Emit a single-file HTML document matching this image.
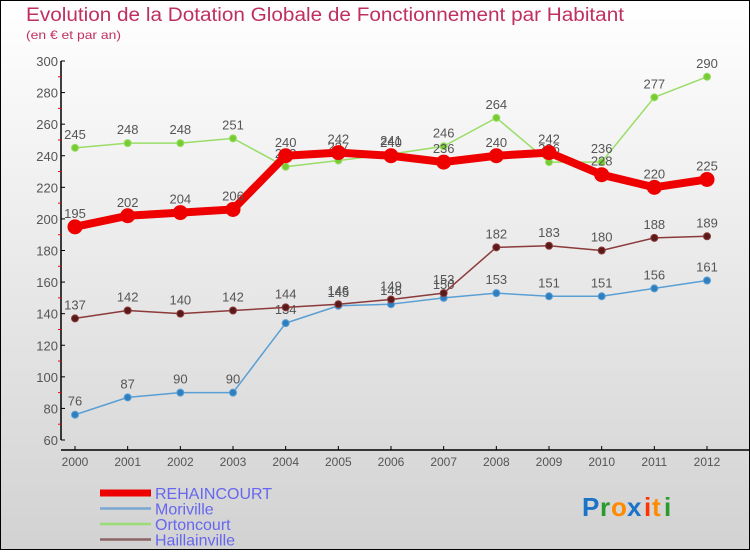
<!DOCTYPE html>
<html><head><meta charset="utf-8"><style>
html,body{margin:0;padding:0}
body{width:750px;height:550px;overflow:hidden}
#c{position:absolute;left:0;top:0;width:748px;height:548px;border:1px solid #000;background:linear-gradient(#ffffff,#d2d2d2)}
svg text{font-family:"Liberation Sans",sans-serif}
</style></head><body>
<div id="c">
<svg id="s" width="748" height="548" viewBox="1 1 748 548" xmlns="http://www.w3.org/2000/svg">
<text x="26" y="21" font-size="19" fill="#c0305f" textLength="598" lengthAdjust="spacingAndGlyphs">Evolution de la Dotation Globale de Fonctionnement par Habitant</text>
<text x="26" y="39" font-size="12" fill="#c0305f" textLength="95" lengthAdjust="spacingAndGlyphs">(en € et par an)</text>
<g id="axes"></g><g id="series"></g><g id="legend"></g>
<g font-size="26" font-weight="bold">
<text x="582" y="516" fill="#1a73c9">P</text><text x="600" y="516" fill="#2a9a2a">r</text><text x="611" y="516" fill="#ff8a00">o</text><text x="627" y="516" fill="#1a73c9">x</text><text x="644" y="516" fill="#ff3300">i</text><text x="652" y="516" fill="#ff8a00">t</text><text x="664" y="516" fill="#2a9a2a">i</text>
</g>
</svg></div>
<script>
const years=[2000,2001,2002,2003,2004,2005,2006,2007,2008,2009,2010,2011,2012];
const rehaincourt=[195,202,204,206,240,242,240,236,240,242,228,220,225];
const moriville=[76,87,90,90,134,145,146,150,153,151,151,156,161];
const ortoncourt=[245,248,248,251,233,237,241,246,264,236,236,277,290];
const haillainville=[137,142,140,142,144,146,149,153,182,183,180,188,189];
const yTicks=[60,80,100,120,140,160,180,200,220,240,260,280,300];
const NS="http://www.w3.org/2000/svg";
function X(i){return 75+i*(707-75)/(years.length-1);}
function Y(v){return 440-(v-60)*(440-61)/240;}
function mk(tag,attrs,parent){const e=document.createElementNS(NS,tag);for(const k in attrs)e.setAttribute(k,attrs[k]);parent.appendChild(e);return e;}
const ax=document.getElementById('axes');
let yl=mk('line',{x1:61,y1:61,x2:61,y2:440,stroke:'#000','stroke-width':1.5},ax);


let xl=mk('line',{x1:61,y1:450,x2:750,y2:450,stroke:'#000','stroke-width':1.5},ax);


yTicks.forEach((v,i)=>{
 mk('line',{x1:61,y1:Y(v),x2:65,y2:Y(v),stroke:'#000'},ax);
 if(i<yTicks.length-1)mk('line',{x1:58,y1:Y(v+10),x2:61,y2:Y(v+10),stroke:'#f00'},ax);
 const t=mk('text',{x:58,y:Y(v)+5,'text-anchor':'end','font-size':13,fill:'#555'},ax);t.textContent=v;
 
 
});
years.forEach((yr,i)=>{
 mk('line',{x1:X(i),y1:446,x2:X(i),y2:450,stroke:'#000'},ax);
 const t=mk('text',{x:X(i),y:466,'text-anchor':'middle','font-size':12,fill:'#555'},ax);t.textContent=yr;
 
 
});
const sg=document.getElementById('series');
function drawSeries(data,color,w,r,name,dot){
 const g=mk('g',{},sg);
 
 
 mk('polyline',{points:data.map((v,i)=>X(i)+','+Y(v)).join(' '),fill:'none',stroke:color,'stroke-width':w,'stroke-linejoin':'round'},g);
 data.forEach((v,i)=>{
  const c=mk('circle',{cx:X(i),cy:Y(v),r:r,fill:dot,stroke:color,'stroke-width':1},g);
  
  
  const t=mk('text',{x:X(i),y:Y(v)-9,'text-anchor':'middle','font-size':13,fill:'#555'},g);t.textContent=v;
  
  
 });
}
drawSeries(moriville,'#5a9fd4',1.5,3.5,'moriville','#2f7fc0');
drawSeries(haillainville,'#8b3a3a',1.5,3.5,'haillainville','#5a1a1a');
drawSeries(ortoncourt,'#99dd66',1.5,3.5,'ortoncourt','#77cc33');
drawSeries(rehaincourt,'#ee0000',8,7,'rehaincourt','#ee0000');
const lg=document.getElementById('legend');
const leg=[['REHAINCOURT','#ee0000',7],['Moriville','#7aa8d0',2.5],['Ortoncourt','#99dd77',2.5],['Haillainville','#8b6464',2.5]];
leg.forEach((l,i)=>{
 const y=493+i*15.5;
 const g=mk('g',{},lg);
 
 
 mk('line',{x1:100,y1:y,x2:151,y2:y,stroke:l[1],'stroke-width':l[2]},g);
 const t=mk('text',{x:155,y:y+6,'font-size':16,fill:'#6666ee'},g);t.textContent=l[0];
});
</script>
</body></html>
